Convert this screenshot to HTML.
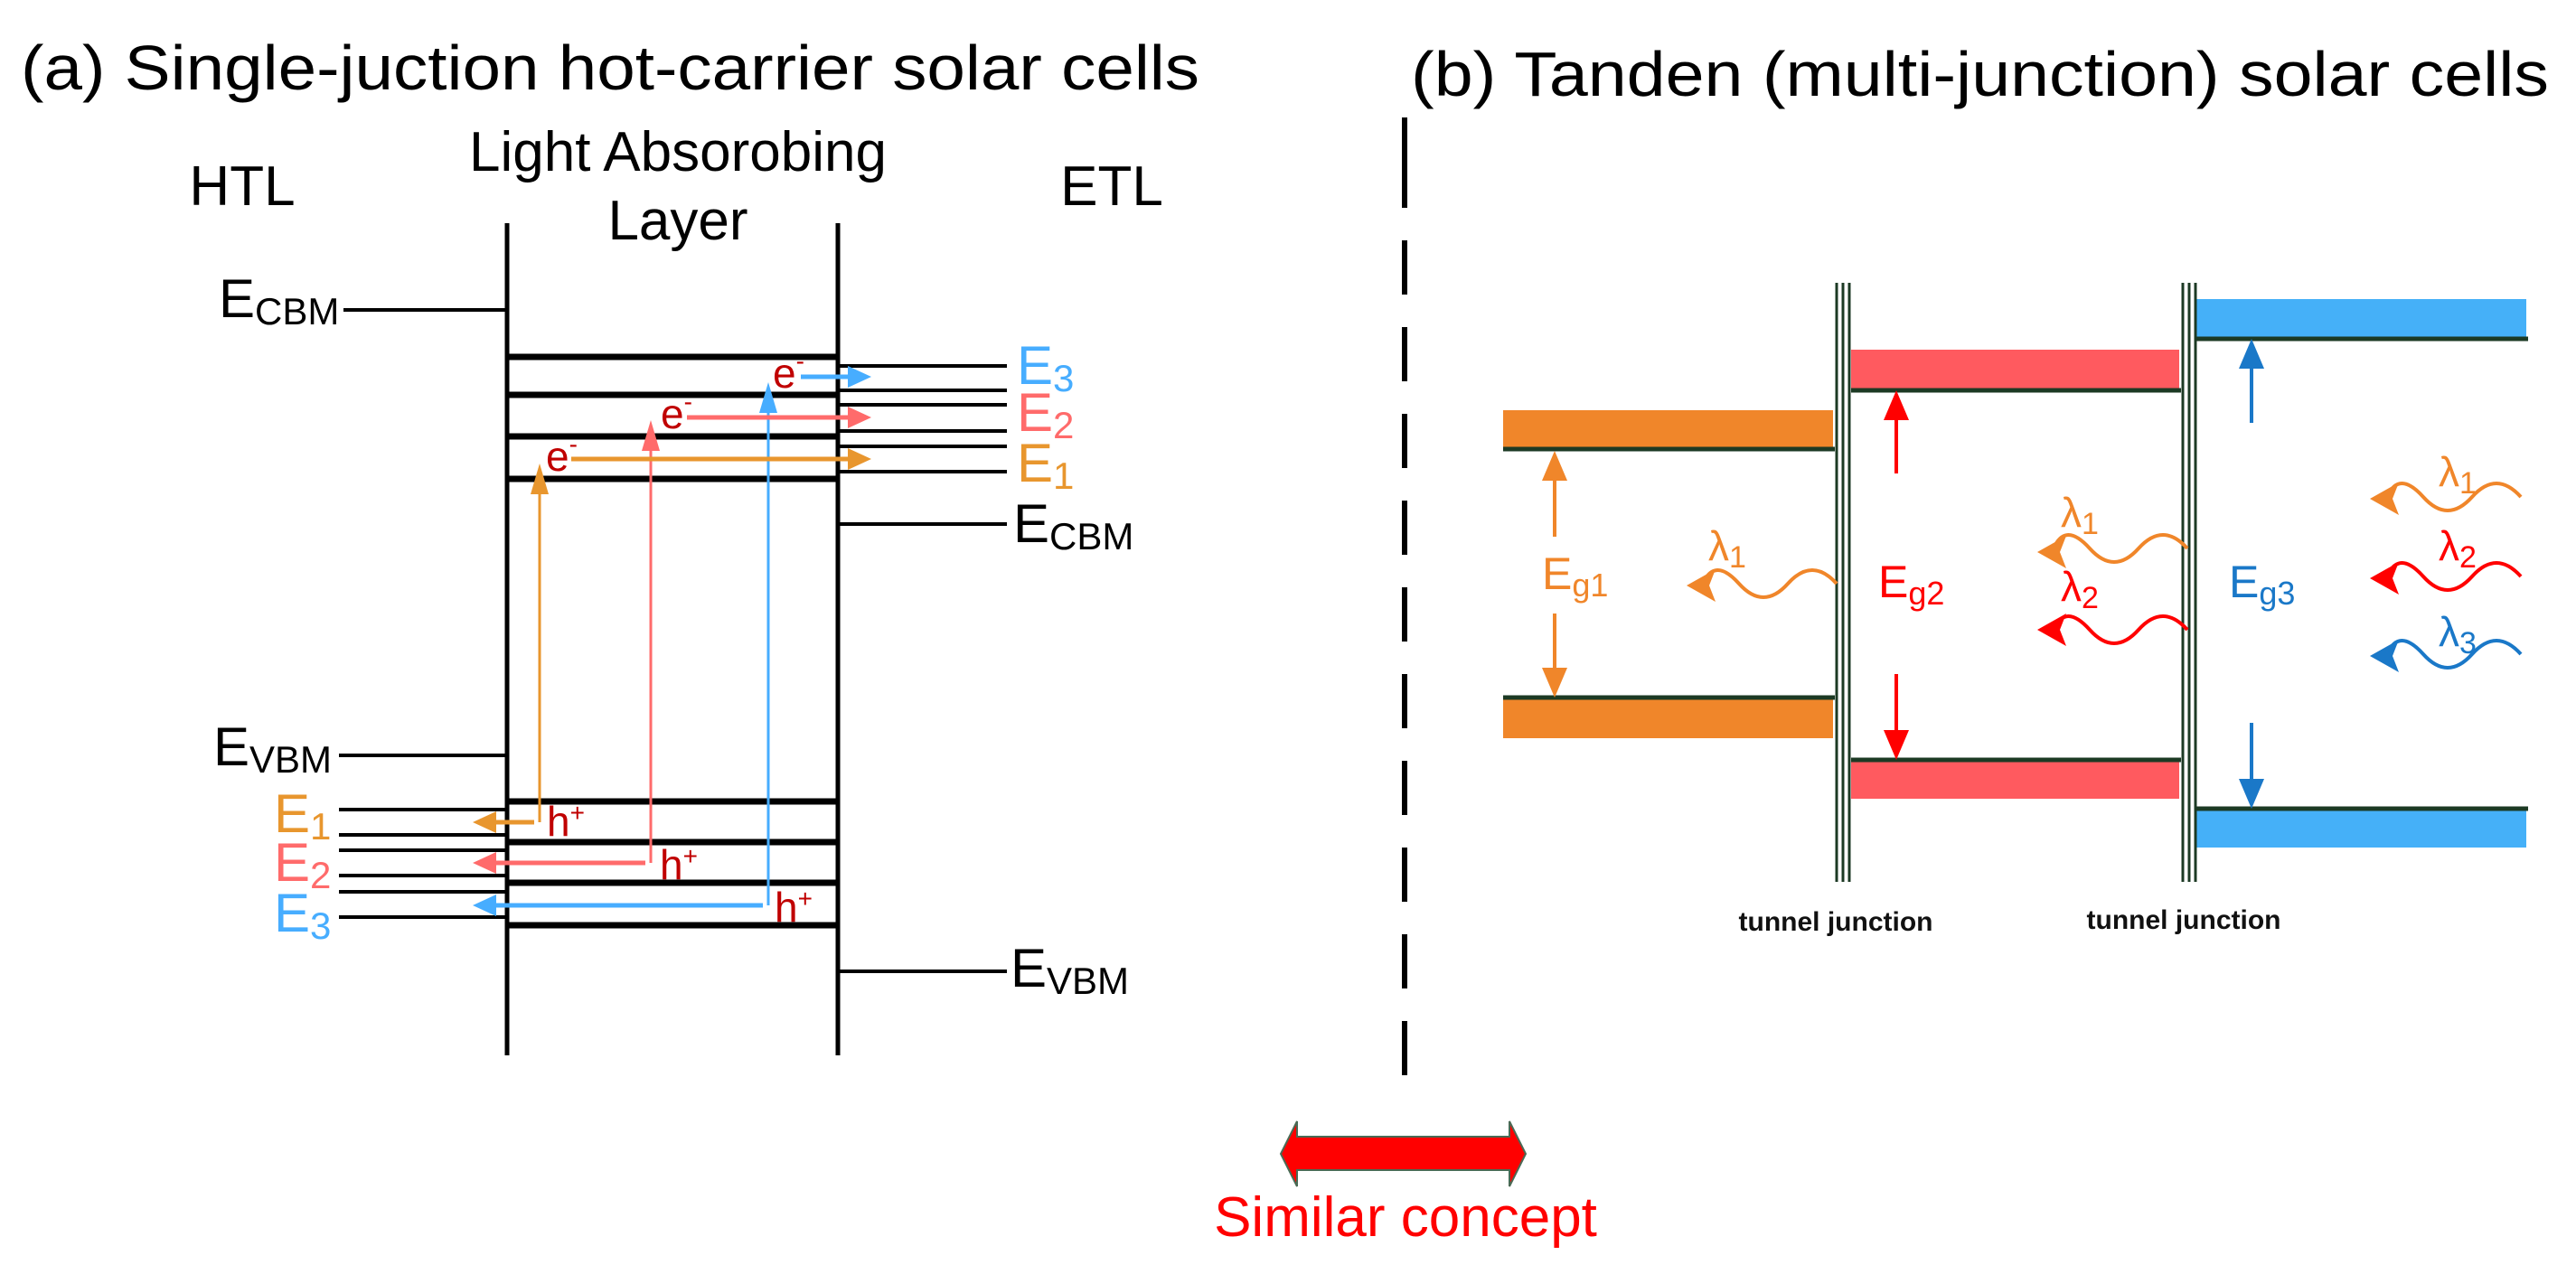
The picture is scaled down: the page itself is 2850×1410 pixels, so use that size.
<!DOCTYPE html>
<html><head><meta charset="utf-8"><style>
html,body{margin:0;padding:0;background:#fff}
svg{display:block}
text{font-family:"Liberation Sans",Arial,sans-serif}
</style></head><body>
<svg width="2850" height="1410" viewBox="0 0 2850 1410" xmlns="http://www.w3.org/2000/svg">
<!-- Titles -->
<text x="23" y="99" font-size="70" textLength="1304" lengthAdjust="spacingAndGlyphs">(a) Single-juction hot-carrier solar cells</text>
<text x="1561" y="106" font-size="70" textLength="1259" lengthAdjust="spacingAndGlyphs">(b) Tanden (multi-junction) solar cells</text>

<!-- Panel a headers -->
<text x="750" y="189" font-size="62" text-anchor="middle">Light Absorobing</text>
<text x="750" y="265" font-size="62" text-anchor="middle">Layer</text>
<text x="268" y="227" font-size="62" text-anchor="middle">HTL</text>
<text x="1230" y="227" font-size="62" text-anchor="middle">ETL</text>

<g stroke="#000" fill="none">
<line x1="561" y1="247" x2="561" y2="1168" stroke-width="5"/>
<line x1="927" y1="247" x2="927" y2="1168" stroke-width="5"/>
<line x1="380" y1="343" x2="561" y2="343" stroke-width="4"/>
<line x1="375" y1="836" x2="561" y2="836" stroke-width="4"/>
<line x1="927" y1="580" x2="1114" y2="580" stroke-width="4"/>
<line x1="927" y1="1075" x2="1114" y2="1075" stroke-width="4"/>
<g stroke-width="7">
<line x1="561" y1="395" x2="927" y2="395"/><line x1="561" y1="437" x2="927" y2="437"/>
<line x1="561" y1="483" x2="927" y2="483"/><line x1="561" y1="530" x2="927" y2="530"/>
<line x1="561" y1="887" x2="927" y2="887"/><line x1="561" y1="932" x2="927" y2="932"/>
<line x1="561" y1="977" x2="927" y2="977"/><line x1="561" y1="1024" x2="927" y2="1024"/>
</g>
<g stroke-width="4">
<line x1="927" y1="405" x2="1114" y2="405"/><line x1="927" y1="432" x2="1114" y2="432"/>
<line x1="927" y1="448" x2="1114" y2="448"/><line x1="927" y1="477" x2="1114" y2="477"/>
<line x1="927" y1="494" x2="1114" y2="494"/><line x1="927" y1="522" x2="1114" y2="522"/>
<line x1="375" y1="896" x2="561" y2="896"/><line x1="375" y1="924" x2="561" y2="924"/>
<line x1="375" y1="941" x2="561" y2="941"/><line x1="375" y1="969" x2="561" y2="969"/>
<line x1="375" y1="987" x2="561" y2="987"/><line x1="375" y1="1015" x2="561" y2="1015"/>
</g>
</g>
<g font-size="60">
<text x="242" y="351">E<tspan font-size="42" dy="8">CBM</tspan></text>
<text x="236" y="847">E<tspan font-size="42" dy="8">VBM</tspan></text>
<text x="1121" y="600">E<tspan font-size="42" dy="8">CBM</tspan></text>
<text x="1118" y="1092">E<tspan font-size="42" dy="8">VBM</tspan></text>
<text x="1125" y="425" fill="#47adff">E<tspan font-size="42" dy="8">3</tspan></text>
<text x="1125" y="477" fill="#ff6b6b">E<tspan font-size="42" dy="8">2</tspan></text>
<text x="1125" y="533" fill="#e8962e">E<tspan font-size="42" dy="8">1</tspan></text>
<text x="303" y="921" fill="#e8962e">E<tspan font-size="42" dy="8">1</tspan></text>
<text x="303" y="975" fill="#ff6b6b">E<tspan font-size="42" dy="8">2</tspan></text>
<text x="303" y="1031" fill="#47adff">E<tspan font-size="42" dy="8">3</tspan></text>
</g>
<g stroke-width="3" fill="none">
<line x1="597" y1="910" x2="597" y2="530" stroke="#e8962e"/>
<line x1="720" y1="955" x2="720" y2="485" stroke="#ff6b6b"/>
<line x1="850" y1="1002" x2="850" y2="443" stroke="#47adff"/>
</g>
<path d="M597,513 L587,547 L607,547 z" fill="#e8962e"/>
<path d="M720,465 L710,499 L730,499 z" fill="#ff6b6b"/>
<path d="M850,423 L840,457 L860,457 z" fill="#47adff"/>
<g stroke-width="5" fill="none">
<line x1="632" y1="508" x2="950" y2="508" stroke="#e8962e"/>
<line x1="760" y1="462" x2="950" y2="462" stroke="#ff6b6b"/>
<line x1="886" y1="417" x2="950" y2="417" stroke="#47adff"/>
<line x1="591" y1="910" x2="540" y2="910" stroke="#e8962e"/>
<line x1="714" y1="955" x2="540" y2="955" stroke="#ff6b6b"/>
<line x1="844" y1="1002" x2="540" y2="1002" stroke="#47adff"/>
</g>
<path d="M964,508 L938,496 L938,520 z" fill="#e8962e"/>
<path d="M964,462 L938,450 L938,474 z" fill="#ff6b6b"/>
<path d="M964,417 L938,405 L938,429 z" fill="#47adff"/>
<path d="M523,910 L549,898 L549,922 z" fill="#e8962e"/>
<path d="M523,955 L549,943 L549,967 z" fill="#ff6b6b"/>
<path d="M523,1002 L549,990 L549,1014 z" fill="#47adff"/>
<g font-size="46" fill="#c00000">
<text x="604" y="521">e<tspan font-size="28" dy="-20">-</tspan></text>
<text x="731" y="474">e<tspan font-size="28" dy="-20">-</tspan></text>
<text x="855" y="429">e<tspan font-size="28" dy="-20">-</tspan></text>
<text x="605" y="925">h<tspan font-size="28" dy="-16">+</tspan></text>
<text x="730" y="973">h<tspan font-size="28" dy="-16">+</tspan></text>
<text x="857" y="1020">h<tspan font-size="28" dy="-16">+</tspan></text>
</g>

<line x1="1554" y1="130" x2="1554" y2="1212" stroke="#000" stroke-width="6" stroke-dasharray="100 36 60 36 60 36 60 36 60 36 60 36 60 36 60 36 60 36 60 36 60 36" />
<path d="M1417,1277 L1435,1241 L1435,1258 L1670,1258 L1670,1241 L1688,1277 L1670,1313 L1670,1295 L1435,1295 L1435,1313 z" fill="#ff0000" stroke="#4a6a55" stroke-width="2"/>
<text x="1555" y="1368" font-size="62" fill="#ff0000" text-anchor="middle">Similar concept</text>

<rect x="1663" y="454" width="365" height="42" fill="#f0862a"/>
<rect x="1663" y="773" width="365" height="44" fill="#f0862a"/>
<rect x="2048" y="387" width="363" height="43" fill="#ff5a5f"/>
<rect x="2048" y="843" width="363" height="41" fill="#ff5a5f"/>
<rect x="2430" y="331" width="365" height="43" fill="#45b0f8"/>
<rect x="2430" y="897" width="365" height="41" fill="#45b0f8"/>
<g stroke="#1c3a24" stroke-width="5">
<line x1="1663" y1="497" x2="2030" y2="497"/>
<line x1="1663" y1="772" x2="2030" y2="772"/>
<line x1="2048" y1="432" x2="2413" y2="432"/>
<line x1="2048" y1="841" x2="2413" y2="841"/>
<line x1="2430" y1="375" x2="2797" y2="375"/>
<line x1="2430" y1="895" x2="2797" y2="895"/>
</g>
<g stroke="#1c3a24" stroke-width="3">
<line x1="2032" y1="313" x2="2032" y2="976"/><line x1="2039" y1="313" x2="2039" y2="976"/><line x1="2046" y1="313" x2="2046" y2="976"/>
<line x1="2415" y1="313" x2="2415" y2="976"/><line x1="2422" y1="313" x2="2422" y2="976"/><line x1="2429" y1="313" x2="2429" y2="976"/>
</g>
<g font-size="30" font-weight="bold" text-anchor="middle" fill="#111">
<text x="2031" y="1030">tunnel junction</text>
<text x="2416" y="1028">tunnel junction</text>
</g>
<g stroke-width="4">
<line x1="1720" y1="525" x2="1720" y2="594" stroke="#f0862a"/>
<line x1="1720" y1="679" x2="1720" y2="745" stroke="#f0862a"/>
<line x1="2098" y1="458" x2="2098" y2="524" stroke="#ff0000"/>
<line x1="2098" y1="746" x2="2098" y2="815" stroke="#ff0000"/>
<line x1="2491" y1="401" x2="2491" y2="468" stroke="#1a78c8"/>
<line x1="2491" y1="800" x2="2491" y2="869" stroke="#1a78c8"/>
</g>
<path d="M1720,499 L1706,532 L1734,532 z M1720,772 L1706,739 L1734,739 z" fill="#f0862a"/>
<path d="M2098,432 L2084,465 L2112,465 z M2098,841 L2084,808 L2112,808 z" fill="#ff0000"/>
<path d="M2491,375 L2477,408 L2505,408 z M2491,895 L2477,862 L2505,862 z" fill="#1a78c8"/>
<g font-size="50">
<text x="1706" y="652" fill="#f0862a">E<tspan font-size="36" dy="8">g1</tspan></text>
<text x="2078" y="661" fill="#ff0000">E<tspan font-size="36" dy="8">g2</tspan></text>
<text x="2466" y="661" fill="#1a78c8">E<tspan font-size="36" dy="8">g3</tspan></text>
</g>
<g fill="none" stroke-width="4">
<path d="M2032,646 q-27,-30 -54,0 t-54,0 t-40,0" stroke="#f0862a"/>
<path d="M2420,607 q-27,-30 -54,0 t-54,0 t-40,0" stroke="#f0862a"/>
<path d="M2420,697 q-27,-30 -54,0 t-54,0 t-40,0" stroke="#ff0000"/>
<path d="M2789,550 q-27,-30 -54,0 t-54,0 t-40,0" stroke="#f0862a"/>
<path d="M2789,638 q-27,-30 -54,0 t-54,0 t-40,0" stroke="#ff0000"/>
<path d="M2789,724 q-27,-30 -54,0 t-54,0 t-40,0" stroke="#1a78c8"/>
</g>
<g>
<path d="M1866,648 L1898,630 L1891,648 L1898,666 z" fill="#f0862a"/>
<path d="M2254,611 L2286,593 L2279,611 L2286,629 z" fill="#f0862a"/>
<path d="M2254,697 L2286,679 L2279,697 L2286,715 z" fill="#ff0000"/>
<path d="M2622,552 L2654,534 L2647,552 L2654,570 z" fill="#f0862a"/>
<path d="M2622,640 L2654,622 L2647,640 L2654,658 z" fill="#ff0000"/>
<path d="M2622,726 L2654,708 L2647,726 L2654,744 z" fill="#1a78c8"/>
</g>
<g font-size="46">
<text x="1890" y="620" fill="#f0862a">λ<tspan font-size="34" dy="8">1</tspan></text>
<text x="2280" y="583" fill="#f0862a">λ<tspan font-size="34" dy="8">1</tspan></text>
<text x="2280" y="665" fill="#ff0000">λ<tspan font-size="34" dy="8">2</tspan></text>
<text x="2698" y="538" fill="#f0862a">λ<tspan font-size="34" dy="8">1</tspan></text>
<text x="2698" y="620" fill="#ff0000">λ<tspan font-size="34" dy="8">2</tspan></text>
<text x="2698" y="715" fill="#1a78c8">λ<tspan font-size="34" dy="8">3</tspan></text>
</g>
</svg>
</body></html>
